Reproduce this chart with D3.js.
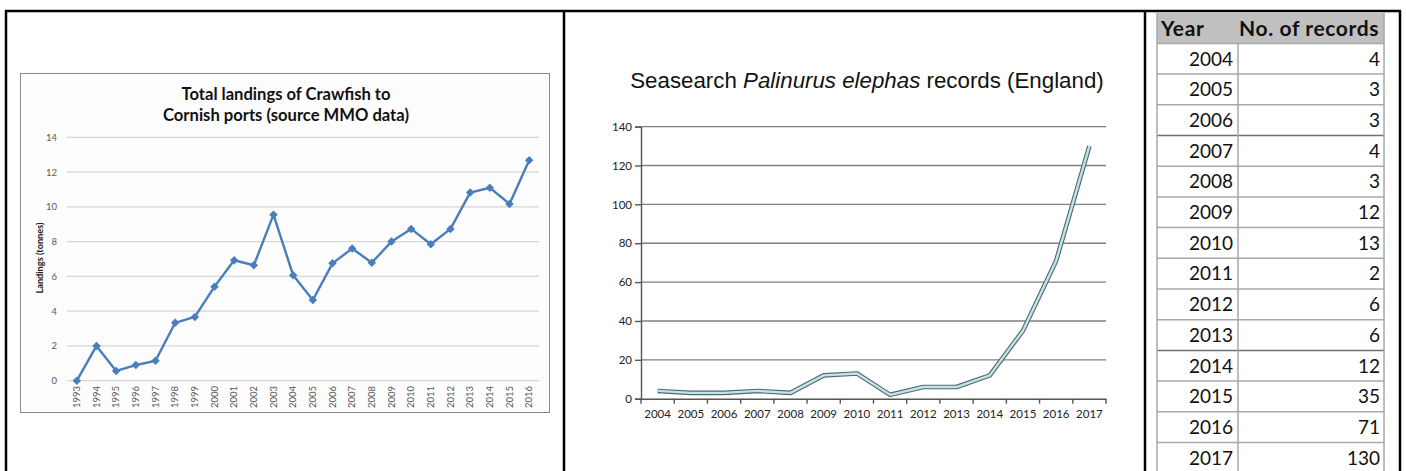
<!DOCTYPE html>
<html>
<head>
<meta charset="utf-8">
<script src="https://cdn.jsdelivr.net/npm/d3@7"></script>
<style>
  html, body { margin: 0; padding: 0; background: #fff; }
  svg { display: block; }
</style>
</head>
<body>
<svg id="fig" width="1406" height="471"></svg>
<script>
// ---- Data ----
const landingYears = ["1993","1994","1995","1996","1997","1998","1999","2000","2001","2002","2003","2004",
                      "2005","2006","2007","2008","2009","2010","2011","2012","2013","2014","2015","2016"];
const landingTonnes = [0, 2.0, 0.56, 0.9, 1.15, 3.33, 3.67, 5.41, 6.93, 6.64, 9.55, 6.06,
                       4.64, 6.75, 7.6, 6.79, 8.0, 8.73, 7.85, 8.73, 10.82, 11.1, 10.17, 12.68];
const landingTicks = [0, 2, 4, 6, 8, 10, 12, 14];

const recordYears = ["2004","2005","2006","2007","2008","2009","2010","2011","2012","2013","2014","2015","2016","2017"];
const recordCounts = [4, 3, 3, 4, 3, 12, 13, 2, 6, 6, 12, 35, 71, 130];
const recordTicks = [0, 20, 40, 60, 80, 100, 120, 140];

const tableHeader = ["Year", "No. of records"];

const svg = d3.select("#fig");

// ---- Outer frame ----
const frame = svg.append("g").attr("stroke", "#000").attr("stroke-width", 2.5).attr("fill", "none");
frame.append("line").attr("x1", 5).attr("x2", 1401).attr("y1", 11).attr("y2", 11);
[6, 564, 1145, 1400].forEach(x => {
  frame.append("line").attr("x1", x).attr("x2", x).attr("y1", 10).attr("y2", 471);
});

// ---- Left chart: landings ----
(function () {
  const g = svg.append("g");
  g.append("rect").attr("x", 20.5).attr("y", 73.5).attr("width", 529).attr("height", 339)
    .attr("fill", "#fdfdfd").attr("stroke", "#8a8a8a").attr("stroke-width", 1);

  const x = d3.scaleBand().domain(landingYears).range([67, 539]);
  const y = d3.scaleLinear().domain([0, 14]).range([380.7, 137.3]);
  const font = "Lato, 'Open Sans', sans-serif";

  g.append("text").attr("x", 286).attr("y", 99.5).attr("text-anchor", "middle")
    .attr("font-family", font).attr("font-weight", "bold").attr("font-size", 16.6).attr("fill", "#111")
    .text("Total landings of Crawfish to");
  g.append("text").attr("x", 286).attr("y", 120.5).attr("text-anchor", "middle")
    .attr("font-family", font).attr("font-weight", "bold").attr("font-size", 16.6).attr("fill", "#111")
    .text("Cornish ports (source MMO data)");

  // horizontal gridlines
  g.append("g").selectAll("line").data(landingTicks).join("line")
    .attr("x1", 67).attr("x2", 539)
    .attr("y1", d => y(d)).attr("y2", d => y(d))
    .attr("stroke", "#d6d6d6").attr("stroke-width", 1.2);

  // y tick labels
  const yAxis = d3.axisLeft(y).tickValues(landingTicks).tickSize(0).tickPadding(0);
  const ya = g.append("g").attr("transform", "translate(57,0)").call(yAxis);
  ya.select(".domain").remove();
  ya.selectAll("text").attr("font-family", font).attr("font-size", 9.5).attr("fill", "#595959");

  // x tick labels (rotated)
  const xAxis = d3.axisBottom(x).tickSize(0).tickPadding(0);
  const xa = g.append("g").attr("transform", "translate(0,386)").call(xAxis);
  xa.select(".domain").remove();
  xa.selectAll("text")
    .attr("font-family", font).attr("font-size", 9.5).attr("fill", "#595959")
    .attr("transform", "rotate(-90)").attr("text-anchor", "end")
    .attr("dy", "0.35em").attr("x", 0).attr("y", 0);

  // y axis title
  g.append("text").attr("transform", "translate(43,258) rotate(-90)").attr("text-anchor", "middle")
    .attr("font-family", font).attr("font-weight", "bold").attr("font-size", 9.2).attr("fill", "#222")
    .text("Landings (tonnes)");

  const line = d3.line().x((d, i) => x(landingYears[i]) + x.bandwidth() / 2).y(d => y(d));
  g.append("path").datum(landingTonnes).attr("d", line)
    .attr("fill", "none").attr("stroke", "#4a7ebb").attr("stroke-width", 2.4).attr("stroke-linejoin", "round");

  g.append("g").selectAll("path").data(landingTonnes).join("path")
    .attr("d", d3.symbol(d3.symbolSquare, 36))
    .attr("transform", (d, i) => `translate(${x(landingYears[i]) + x.bandwidth() / 2},${y(d)}) rotate(45)`)
    .attr("fill", "#4a7ebb");
})();

// ---- Middle chart: Seasearch records ----
(function () {
  const g = svg.append("g");
  const x = d3.scaleBand().domain(recordYears).range([641, 1106]);
  const y = d3.scaleLinear().domain([0, 140]).range([398.7, 126.6]);
  const font = "Lato, 'Open Sans', sans-serif";

  const title = g.append("text").attr("x", 867).attr("y", 87.5).attr("text-anchor", "middle")
    .attr("font-family", "'Liberation Sans', Arial, sans-serif").attr("font-size", 22.3).attr("fill", "#111");
  title.append("tspan").text("Seasearch ");
  title.append("tspan").attr("font-style", "italic").text("Palinurus elephas");
  title.append("tspan").text(" records (England)");

  // gridlines
  g.append("g").selectAll("line").data(recordTicks.filter(d => d > 0)).join("line")
    .attr("x1", 641).attr("x2", 1106)
    .attr("y1", d => y(d)).attr("y2", d => y(d))
    .attr("stroke", "#7f7f7f").attr("stroke-width", 1.4);

  // y axis
  const ya = g.append("g").attr("transform", "translate(641,0)")
    .call(d3.axisLeft(y).tickValues(recordTicks).tickSize(6).tickPadding(3));
  ya.select(".domain").attr("stroke", "#555").attr("stroke-width", 1.4);
  ya.selectAll(".tick line").attr("stroke", "#555").attr("stroke-width", 1.4);
  ya.selectAll("text").attr("font-family", font).attr("font-size", 11.5).attr("fill", "#222");

  // x axis with ticks at band boundaries
  const xa = g.append("g").attr("transform", `translate(0,${y(0)})`)
    .call(d3.axisBottom(x).tickSize(0).tickPadding(11));
  xa.select(".domain").attr("stroke", "#555").attr("stroke-width", 1.6);
  xa.selectAll("text").attr("font-family", font).attr("font-size", 11.5).attr("fill", "#222");
  xa.append("g").selectAll("line").data(recordYears.concat(["end"])).join("line")
    .attr("x1", (d, i) => x.range()[0] + i * x.step()).attr("x2", (d, i) => x.range()[0] + i * x.step())
    .attr("y1", 0).attr("y2", 5)
    .attr("stroke", "#555").attr("stroke-width", 1.4);

  const line = d3.line().x((d, i) => x(recordYears[i]) + x.bandwidth() / 2).y(d => y(d));
  g.append("path").datum(recordCounts).attr("d", line)
    .attr("fill", "none").attr("stroke", "#56676a").attr("stroke-width", 4.6).attr("stroke-linejoin", "round");
  g.append("path").datum(recordCounts).attr("d", line)
    .attr("fill", "none").attr("stroke", "#bfe4ec").attr("stroke-width", 2.4).attr("stroke-linejoin", "round");
})();

// ---- Right: table of records ----
(function () {
  const g = svg.append("g");
  const font = "Lato, 'Open Sans', sans-serif";
  const top = 12.7, rowH = 30.7;
  const colX = [1157, 1238, 1384];
  const rows = d3.scaleBand().domain(d3.range(recordYears.length + 1)).range([top, top + rowH * (recordYears.length + 1)]);

  g.append("rect").attr("x", colX[0]).attr("y", top).attr("width", colX[2] - colX[0]).attr("height", rowH)
    .attr("fill", "#c0c0c0");

  // row lines
  g.append("g").selectAll("line").data(d3.range(1, recordYears.length + 1)).join("line")
    .attr("x1", colX[0]).attr("x2", colX[2])
    .attr("y1", d => rows(d)).attr("y2", d => rows(d))
    .attr("stroke", d => (d === 4 || d === 11) ? "#6f6f6f" : "#a8a8a8").attr("stroke-width", 1.5);
  // column lines
  g.append("line").attr("x1", colX[0]).attr("x2", colX[0]).attr("y1", top).attr("y2", 471)
    .attr("stroke", "#a8a8a8").attr("stroke-width", 1.5);
  g.append("line").attr("x1", colX[1]).attr("x2", colX[1]).attr("y1", top + rowH).attr("y2", 471)
    .attr("stroke", "#a8a8a8").attr("stroke-width", 1.5);
  g.append("line").attr("x1", colX[2]).attr("x2", colX[2]).attr("y1", top).attr("y2", 471)
    .attr("stroke", "#a8a8a8").attr("stroke-width", 1.5);

  g.append("text").attr("x", colX[0] + 4).attr("y", top + rowH / 2).attr("dy", "0.36em")
    .attr("font-family", font).attr("font-weight", "bold").attr("font-size", 21).attr("fill", "#111")
    .attr("letter-spacing", 0.6)
    .text(tableHeader[0]);
  g.append("text").attr("x", colX[2] - 5).attr("y", top + rowH / 2).attr("dy", "0.36em").attr("text-anchor", "end")
    .attr("font-family", font).attr("font-weight", "bold").attr("font-size", 21).attr("fill", "#111")
    .attr("letter-spacing", 0.6)
    .text(tableHeader[1]);

  const body = g.append("g").attr("font-family", font).attr("font-size", 19).attr("fill", "#111").attr("text-anchor", "end");
  body.selectAll("text.yr").data(recordYears).join("text").attr("class", "yr")
    .attr("x", colX[1] - 5).attr("y", (d, i) => rows(i + 1) + rowH / 2).attr("dy", "0.36em").text(d => d);
  body.selectAll("text.ct").data(recordCounts).join("text").attr("class", "ct")
    .attr("x", colX[2] - 4).attr("y", (d, i) => rows(i + 1) + rowH / 2).attr("dy", "0.36em").text(d => d);
})();
</script>
</body>
</html>
